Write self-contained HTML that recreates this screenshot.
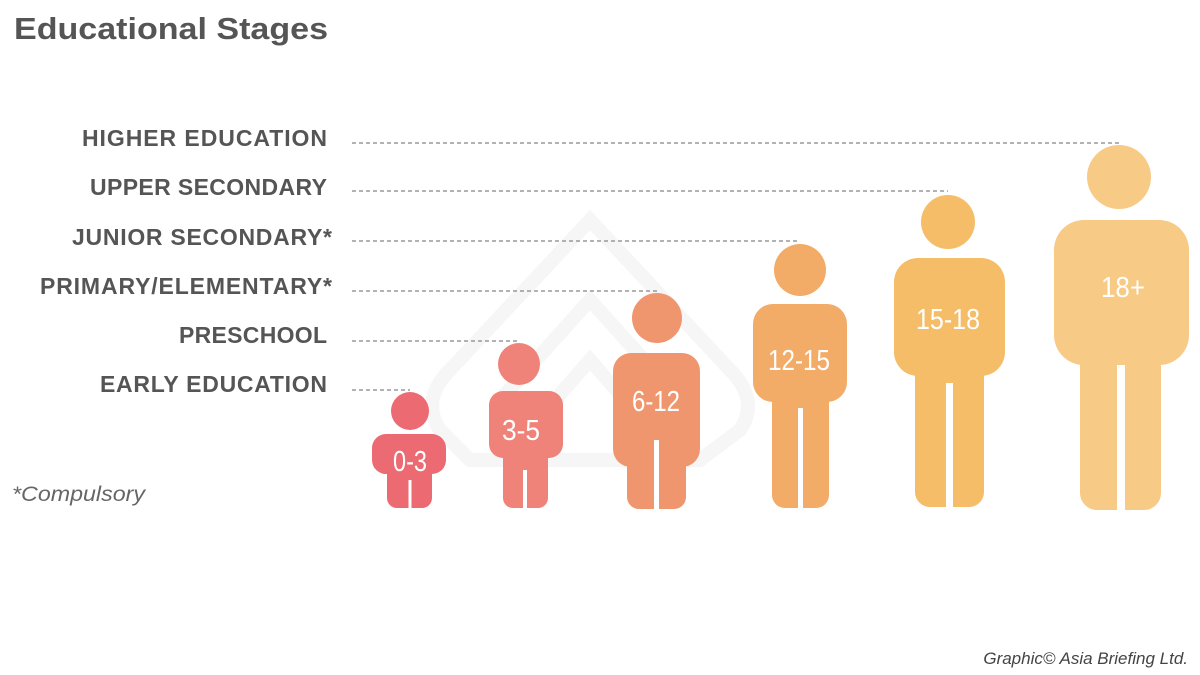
<!DOCTYPE html>
<html><head><style>
body{margin:0;background:#fff;}
svg{display:block;font-family:"Liberation Sans",sans-serif;}
</style></head><body>
<svg width="1200" height="675" viewBox="0 0 1200 675">
<text x="14" y="39" font-size="31" font-weight="bold" fill="#555" textLength="314" lengthAdjust="spacingAndGlyphs">Educational Stages</text>
<g opacity="0.5" fill="none" stroke="#eee" stroke-width="14">
<path d="M470 460 L440 430 Q420 400 450 370 L590 220 L730 370 Q760 400 740 430 L700 460 Z"/>
<path d="M520 440 L590 360 L660 440"/>
<path d="M500 400 L590 300 L680 400"/>
</g>
<g font-size="23" font-weight="bold" fill="#555" lengthAdjust="spacingAndGlyphs">
<text x="82" y="146" textLength="245">HIGHER EDUCATION</text>
<text x="90" y="195" textLength="237">UPPER SECONDARY</text>
<text x="72" y="245" textLength="260">JUNIOR SECONDARY*</text>
<text x="40" y="294" textLength="292">PRIMARY/ELEMENTARY*</text>
<text x="179" y="343" textLength="148">PRESCHOOL</text>
<text x="100" y="392" textLength="227">EARLY EDUCATION</text>
</g>
<g stroke="#999" stroke-width="1.5" stroke-dasharray="4,3">
<line x1="352" y1="143" x2="1120" y2="143"/>
<line x1="352" y1="191" x2="948" y2="191"/>
<line x1="352" y1="241" x2="800" y2="241"/>
<line x1="352" y1="291" x2="657" y2="291"/>
<line x1="352" y1="341" x2="519" y2="341"/>
<line x1="352" y1="390" x2="410" y2="390"/>
</g>
<text x="12" y="501" font-size="21" font-style="italic" fill="#666" textLength="133" lengthAdjust="spacingAndGlyphs">*Compulsory</text>
<text x="1188" y="664" font-size="17" font-style="italic" fill="#444" text-anchor="end">Graphic© Asia Briefing Ltd.</text>

<g fill="#ec6a72">
<circle cx="410" cy="411" r="19"/>
<rect x="372" y="434" width="74" height="40" rx="14"/>
<rect x="387" y="450" width="45" height="58" rx="10"/>
</g>
<rect x="408.5" y="480" width="3" height="30" fill="#fff"/>
<g fill="#ef837a">
<circle cx="519" cy="364" r="21"/>
<rect x="489" y="391" width="74" height="67" rx="14"/>
<rect x="503" y="420" width="45" height="88" rx="10"/>
</g>
<rect x="523" y="470" width="4" height="40" fill="#fff"/>
<g fill="#f0966e">
<circle cx="657" cy="318" r="25"/>
<rect x="613" y="353" width="87" height="114" rx="18"/>
<rect x="627" y="400" width="59" height="109" rx="12"/>
</g>
<rect x="654" y="440" width="5" height="72" fill="#fff"/>
<g fill="#f3ab68">
<circle cx="800" cy="270" r="26"/>
<rect x="753" y="304" width="94" height="98" rx="20"/>
<rect x="772" y="360" width="57" height="148" rx="13"/>
</g>
<rect x="798" y="408" width="5" height="102" fill="#fff"/>
<g fill="#f5bd67">
<circle cx="948" cy="222" r="27"/>
<rect x="894" y="258" width="111" height="118" rx="24"/>
<rect x="915" y="320" width="69" height="187" rx="15"/>
</g>
<rect x="946" y="383" width="7" height="126" fill="#fff"/>
<g fill="#f7ca86">
<circle cx="1119" cy="177" r="32"/>
<rect x="1054" y="220" width="135" height="145" rx="30"/>
<rect x="1080" y="300" width="81" height="210" rx="17"/>
</g>
<rect x="1117" y="365" width="8" height="147" fill="#fff"/>

<g fill="#fff" font-size="29" text-anchor="middle">
<text x="410" y="471" textLength="34" lengthAdjust="spacingAndGlyphs">0-3</text>
<text x="521" y="440" textLength="38" lengthAdjust="spacingAndGlyphs">3-5</text>
<text x="656" y="411" textLength="48" lengthAdjust="spacingAndGlyphs">6-12</text>
<text x="799" y="370" textLength="62" lengthAdjust="spacingAndGlyphs">12-15</text>
<text x="948" y="329" textLength="64" lengthAdjust="spacingAndGlyphs">15-18</text>
<text x="1123" y="297" textLength="44" lengthAdjust="spacingAndGlyphs">18+</text>
</g>
</svg>
</body></html>
